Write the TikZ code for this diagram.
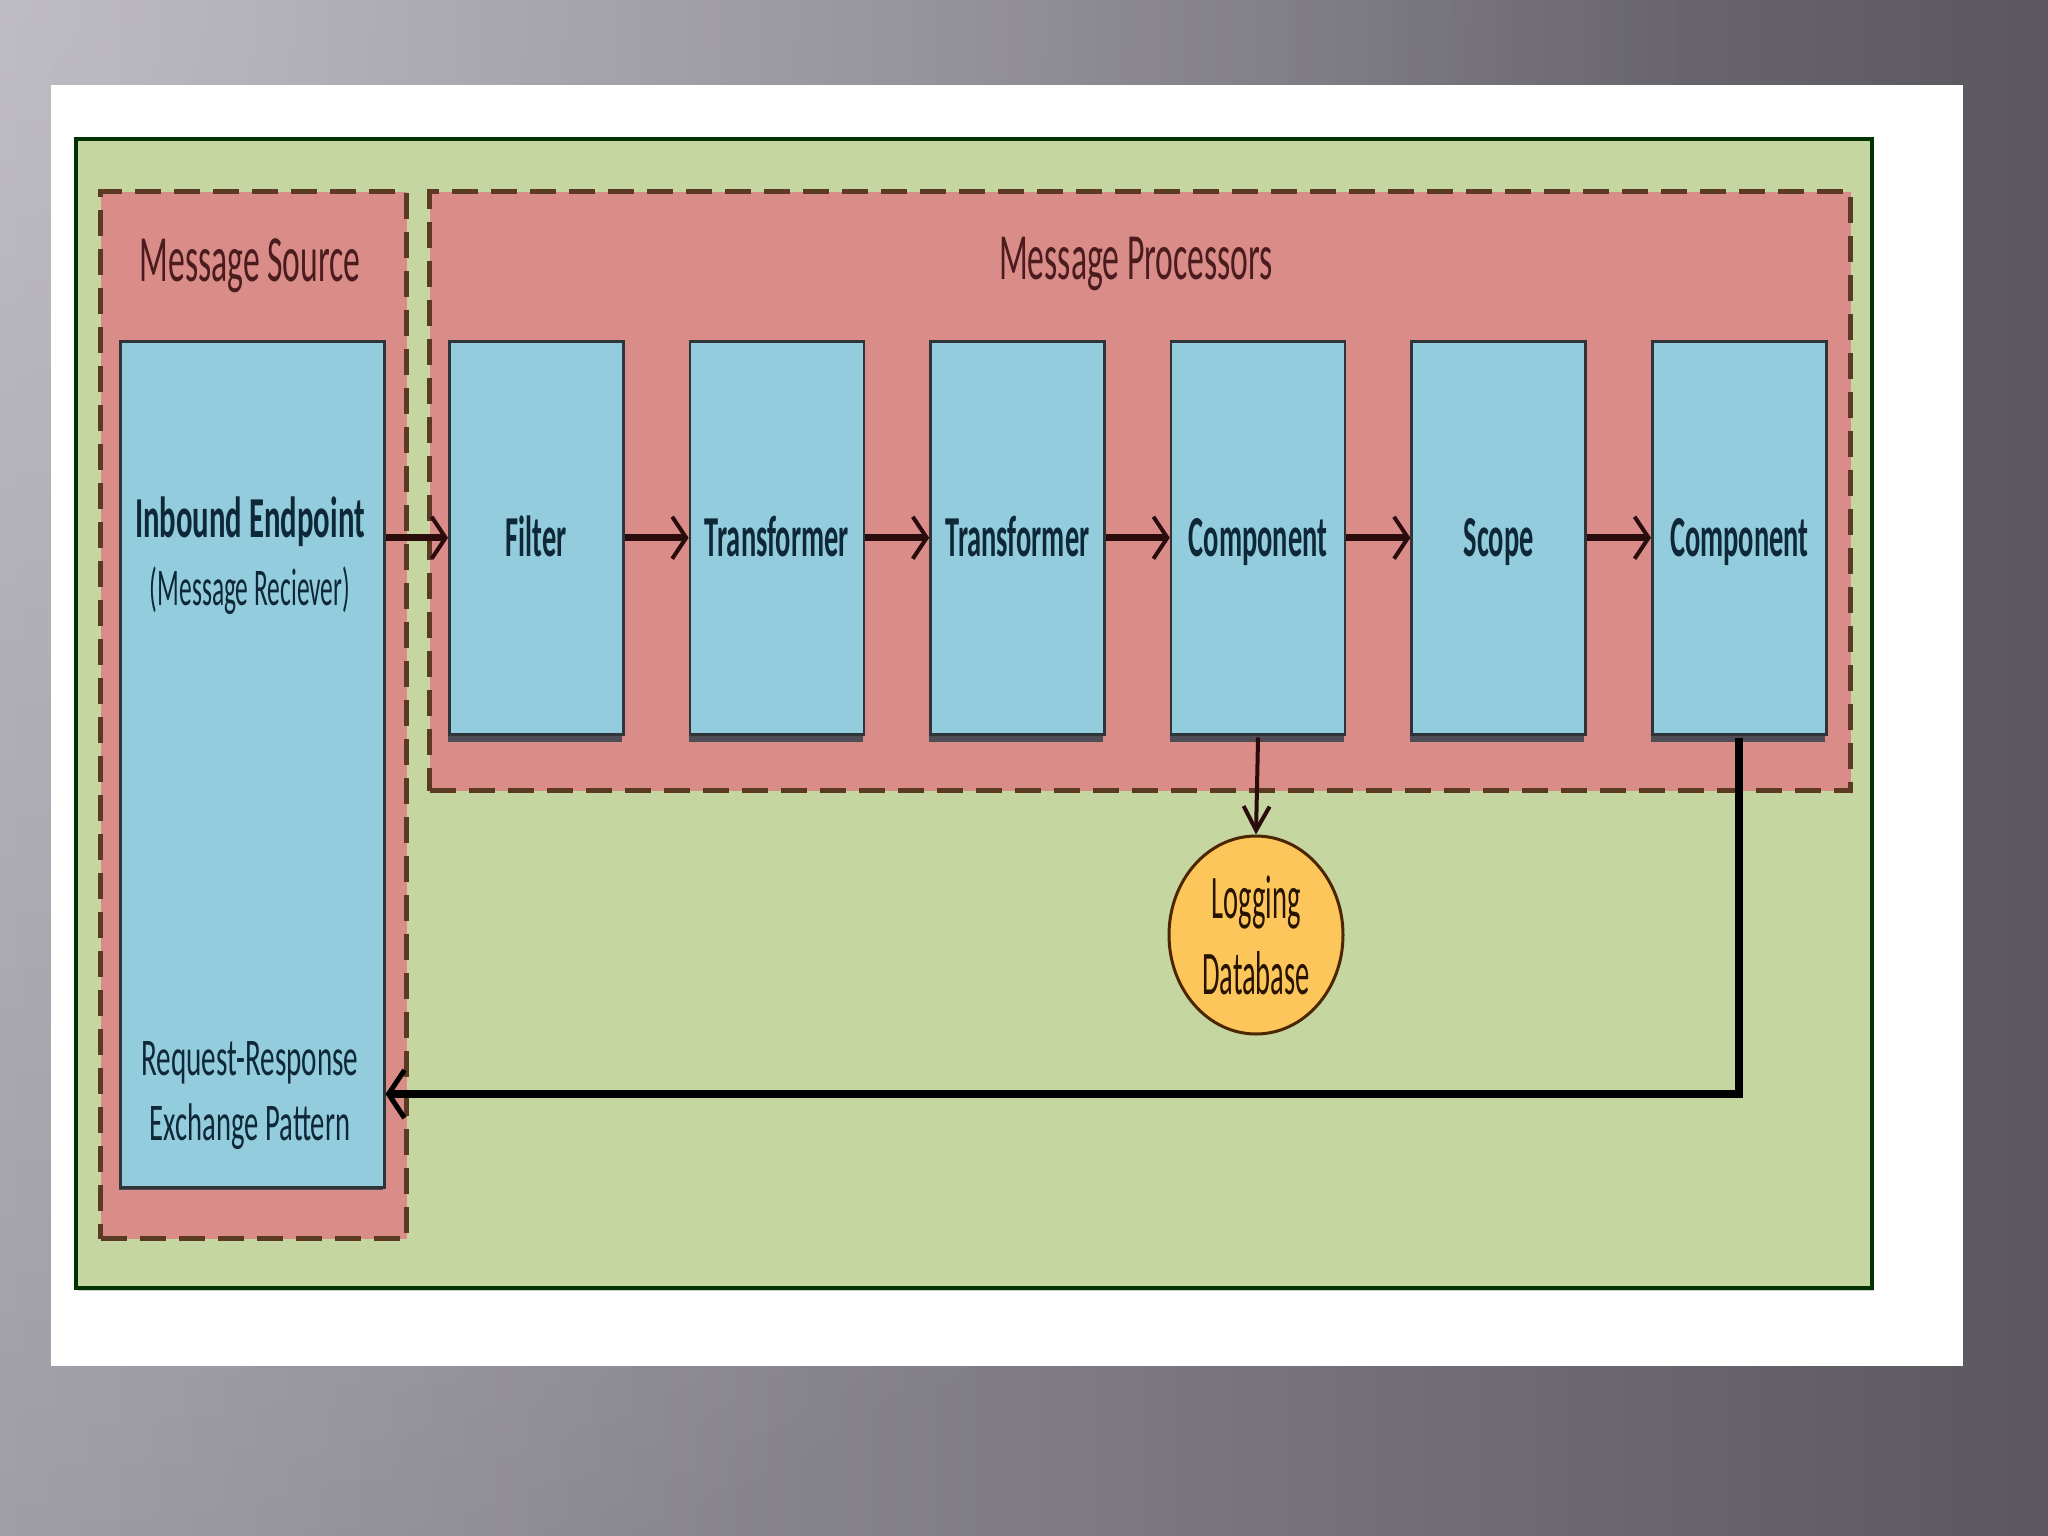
\documentclass[tikz,border=0pt]{standalone}
\usepackage{fontspec}
\setmainfont{Carlito}
\usetikzlibrary{arrows.meta,shapes.geometric,calc,fadings}
\definecolor{bgL}{HTML}{9C9AA3}
\definecolor{bgM}{HTML}{7F7C86}
\definecolor{bgD}{HTML}{5A575F}
\definecolor{grn}{HTML}{C6D6A1}
\definecolor{pnk}{HTML}{DA8C88}
\definecolor{blu}{HTML}{93CDDD}
\definecolor{org}{HTML}{FCC65B}
\definecolor{dsh}{HTML}{5A3A22}
\definecolor{navy}{HTML}{0E2838}
\definecolor{maroon}{HTML}{4A1C1E}
\definecolor{arr}{HTML}{2A0C0C}
\definecolor{edge}{HTML}{2E3438}
\definecolor{shd}{HTML}{4E4C54}
\newcommand\sq[2]{\scalebox{#1}[1]{#2}}
\tikzfading[name=glowfade, inner color=transparent!0, outer color=transparent!100]
\tikzset{
  outerbox/.style={draw=black!80!green, line width=4pt, fill=grn, inner sep=0pt, anchor=north west},
  group/.style={draw=dsh, fill=pnk, line width=5pt, dash pattern=on 26pt off 13pt, inner sep=0pt, anchor=north west},
  proc/.style={draw=edge, fill=blu, line width=2.5pt, minimum width=174pt, minimum height=393pt, inner sep=0pt, anchor=north west},
  title/.style={text=maroon, inner sep=0pt, anchor=base, font=\fontsize{66}{70}\selectfont},
  plbl/.style={text=navy, inner sep=0pt, anchor=base, font=\bfseries\fontsize{58}{62}\selectfont},
  slbl/.style={text=navy, inner sep=0pt, anchor=base, font=\fontsize{53}{58}\selectfont},
  flow/.style={draw=arr, line width=7pt, -{Straight Barb[length=14pt,width=42pt,line width=4pt]}},
  logarr/.style={draw=arr, line width=4pt, -{Straight Barb[length=24pt,width=26pt,line width=4pt]}},
  retarr/.style={draw=black, line width=8pt, -{Straight Barb[length=16pt,width=48pt,line width=5pt]}},
}
\begin{document}
\begin{tikzpicture}[x=1pt,y=-1pt]
\useasboundingbox (0,0) rectangle (2048,1536);
% background
\shade[left color=bgL, right color=bgD, middle color=bgM] (0,0) rectangle (2048,1536);
\fill[white, opacity=0.35, path fading=glowfade] (0,0) circle (1700);
% white panel
\fill[white] (51,85) rectangle (1963,1366);
% outer green container
\fill[black!40, opacity=0.5] (78,141) rectangle (1874,1291);
\node[outerbox, minimum width=1796pt, minimum height=1149pt] (flow) at (74,137) {};
% groups
\node[group, minimum width=306pt, minimum height=1047pt] (srcgrp) at (98,189) {};
\node[group, minimum width=1421pt, minimum height=599pt] (procgrp) at (427,189) {};
\node[title] (srct) at (250,281) {\sq{0.51}{Message Source}};
\node[title] (proct) at (1136,279) {\sq{0.51}{Message Processors}};
% inbound endpoint box
\fill[shd] (119,1180) rectangle (383,1190);
\node[proc, minimum width=264pt, minimum height=846pt] (src) at (119,340) {};
\node[plbl] (srcl1) at (250,537) {\sq{0.53}{Inbound Endpoint}};
\node[slbl] (srcl2) at (250,605) {\sq{0.48}{(Message Reciever)}};
\node[slbl] (srcl3) at (250,1075) {\sq{0.55}{Request-Response}};
\node[slbl] (srcl4) at (250,1140) {\sq{0.54}{Exchange Pattern}};
% processors
\foreach \n/\x/\t in {p1/448/Filter, p2/688.6/Transformer, p3/929.2/Transformer, p4/1169.8/Component, p5/1410.4/Scope, p6/1651/Component}{
  \fill[shd] (\x,728) rectangle (\x+174,742);
  \node[proc] (\n) at (\x,340) {};
  \node[plbl] (\n l) at ([yshift=-19pt]\n.center) {\sq{0.49}{\t}};
}
% flow arrows
\draw[flow] (src.east |- p1.center) -- (p1.west);
\draw[flow] (p1.east) -- (p2.west);
\draw[flow] (p2.east) -- (p3.west);
\draw[flow] (p3.east) -- (p4.west);
\draw[flow] (p4.east) -- (p5.west);
\draw[flow] (p5.east) -- (p6.west);
% logging database
\node[ellipse, fill=org, draw=black!70!orange, line width=3pt, minimum width=174pt, minimum height=198pt, inner sep=0pt,
      text=black!85!orange, align=center, font=\fontsize{62}{76}\selectfont] (db) at (1256,935)
      {\sq{0.46}{Logging}\\\sq{0.46}{Database}};
\draw[logarr] ([yshift=-2pt]p4.south) -- (db.north);
% response path
\coordinate (retY) at (0,1094);
\draw[retarr] ([yshift=-2pt]p6.south) |- (src.east |- retY);
\end{tikzpicture}
\end{document}
